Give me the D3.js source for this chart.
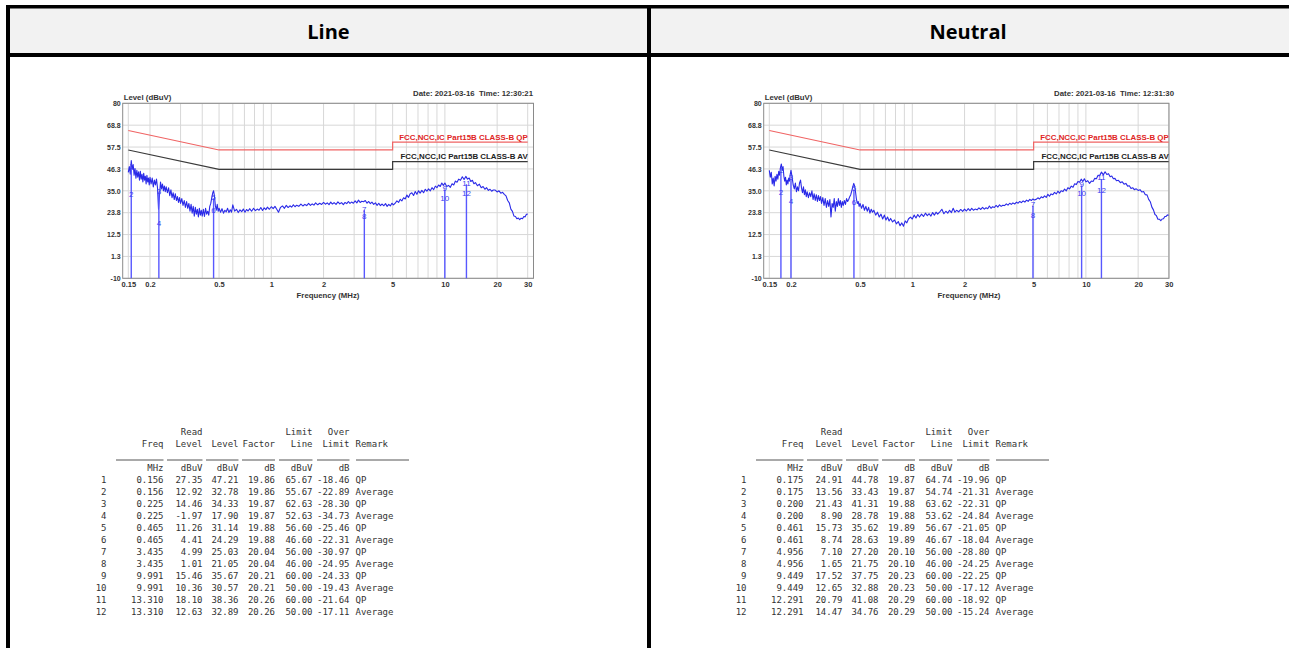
<!DOCTYPE html>
<html><head><meta charset="utf-8">
<script src="https://cdn.jsdelivr.net/npm/d3@7"></script>
<style>body{margin:0;background:#fff}svg{display:block}</style>
</head><body>
<svg id="c" width="1289" height="648"></svg>
<script>
const panelTitles = ["Line", "Neutral"];
const dateTexts = ["Date: 2021-03-16  Time: 12:30:21", "Date: 2021-03-16  Time: 12:31:30"];
const yTicks = [-10, 1.25, 12.5, 23.75, 35, 46.25, 57.5, 68.75, 80];
const yTickLabels = ["-10", "1.3", "12.5", "23.8", "35.0", "46.3", "57.5", "68.8", "80"];
const xTickValues = [0.15, 0.2, 0.5, 1, 2, 5, 10, 20, 30];
const xGrid = [0.15, 0.2, 0.3, 0.4, 0.5, 0.6, 0.7, 0.8, 0.9, 1, 2, 3, 4, 5, 6, 7, 8, 9, 10, 20, 30];
const qpLimit = [[0.15, 66], [0.5, 56], [5, 56], [5, 60], [30, 60]];
const avLimit = [[0.15, 56], [0.5, 46], [5, 46], [5, 50], [30, 50]];
const limitNames = ["FCC,NCC,IC Part15B CLASS-B QP", "FCC,NCC,IC Part15B CLASS-B AV"];

// sweep frequencies (MHz), shared by both scans
const sweepFreq = [
0.150,0.152,0.154,0.156,0.158,0.160,0.162,0.164,0.166,0.168,0.170,0.172,0.174,0.176,0.178,0.180,0.182,0.184,0.186,0.188,0.190,0.192,0.194,0.196,0.198,0.200,
0.203,0.206,0.209,0.212,0.215,0.218,0.221,0.224,0.227,0.230,0.233,0.236,0.239,0.242,0.245,0.248,
0.252,0.256,0.260,0.264,0.268,0.272,0.276,0.280,0.284,0.288,0.292,0.296,
0.300,0.305,0.310,0.315,0.320,0.325,0.330,0.335,0.340,0.345,0.350,0.355,0.360,0.365,0.370,0.375,0.380,0.385,0.390,0.395,0.400,
0.406,0.412,0.418,0.424,0.430,0.436,0.442,0.448,0.454,0.460,
0.465,0.470,0.476,0.482,0.488,0.494,0.500,
0.51,0.52,0.53,0.54,0.55,0.56,0.57,0.58,0.59,0.60,
0.615,0.63,0.645,0.66,0.675,0.69,0.705,0.72,0.735,0.75,
0.77,0.79,0.81,0.83,0.85,0.87,0.89,0.91,0.93,0.95,
0.975,1.00,1.025,1.05,1.075,1.10,
1.13,1.16,1.19,1.22,1.25,1.28,1.31,1.34,1.37,1.40,
1.44,1.48,1.52,1.56,1.60,1.64,1.68,1.72,1.76,1.80,
1.85,1.90,1.95,2.00,2.05,2.10,2.15,2.20,2.25,2.30,
2.36,2.42,2.48,2.54,2.60,2.66,2.72,2.78,2.84,2.90,
2.97,3.04,3.11,3.18,3.25,3.32,
3.40,3.48,3.56,3.64,3.72,3.80,
3.89,3.98,4.07,4.16,4.25,
4.35,4.45,4.55,4.65,4.75,4.85,4.95,5.05,
5.17,5.29,5.41,5.53,5.65,
5.78,5.91,6.04,6.17,6.30,
6.45,6.60,6.75,6.90,7.05,7.20,
7.37,7.54,7.71,7.88,8.05,
8.24,8.43,8.62,8.81,9.00,
9.20,9.40,9.60,9.80,10.0,
10.25,10.5,10.75,11.0,11.25,11.5,11.75,12.0,
12.3,12.6,12.9,13.2,13.5,13.8,14.1,14.4,14.7,15.0,
15.4,15.8,16.2,16.6,17.0,17.4,17.8,18.2,18.6,19.0,
19.5,20.0,20.5,21.0,21.5,22.0,22.5,23.0,23.5,24.0,24.5,25.0,25.5,26.0,26.5,27.0,27.5,28.0,28.5,29.0,29.5,30.0
];

const lineScan = [
44.5,47.5,43.5,50.5,46.0,48.5,43.0,46.5,41.5,45.5,42.0,44.8,40.5,45.0,41.0,43.5,39.5,44.0,40.5,42.5,38.5,43.0,39.5,41.5,38.0,42.0,
38.5,41.5,37.0,40.5,38.0,41.0,36.5,25.5,33.0,39.5,36.0,38.5,35.0,37.5,34.5,37.0,
34.0,36.5,32.5,35.5,31.5,34.0,30.5,33.5,30.0,32.0,29.0,31.5,
28.5,31.0,27.5,30.0,26.5,29.5,26.0,28.5,24.5,28.0,23.5,27.0,22.0,26.5,23.0,25.5,21.5,26.0,22.5,25.0,22.0,
25.5,21.8,26.0,23.0,24.5,22.5,27.0,28.5,31.5,34.0,
35.0,32.5,27.5,25.0,28.0,24.5,26.0,
24.0,25.8,23.5,25.0,24.2,26.0,23.8,25.2,24.0,27.8,
24.5,25.5,23.8,25.2,24.3,25.6,24.0,25.4,24.6,25.8,
24.5,26.0,24.8,25.6,25.0,26.4,24.9,26.2,25.3,26.6,
25.5,26.8,25.8,27.0,25.5,24.0,
26.5,27.2,26.0,27.5,26.4,27.3,26.6,27.8,26.8,27.6,
27.0,28.2,27.2,28.0,27.4,28.5,27.5,28.3,27.6,28.8,
27.8,28.6,28.0,29.0,28.1,28.8,27.9,29.2,28.2,28.9,
28.0,29.3,28.3,28.9,27.9,29.0,28.4,29.5,28.5,29.2,
28.6,29.8,28.8,30.2,29.0,29.6,
29.4,30.0,28.6,29.5,28.4,29.2,
28.0,28.8,27.5,28.6,27.4,
28.2,27.3,28.4,27.0,28.0,27.2,28.6,27.8,
28.6,29.8,29.0,30.6,29.8,
31.4,30.8,32.8,31.6,33.4,
34.0,32.6,34.6,33.2,35.0,33.8,
35.2,34.0,35.8,34.8,36.0,
35.0,36.6,35.6,37.4,36.6,
38.0,37.2,39.0,37.8,39.0,
37.2,37.8,36.8,38.6,38.0,40.0,39.4,41.0,
40.4,42.2,40.8,42.4,41.0,41.6,39.8,40.4,38.6,39.2,
37.6,38.4,36.6,37.2,35.8,36.6,35.2,35.8,34.8,35.4,
35.4,34.4,35.0,33.8,34.2,33.2,32.4,30.0,28.8,25.6,24.4,22.0,21.8,20.6,21.0,20.2,20.9,20.6,21.8,21.6,22.9,23.0
];

const neutralScan = [
45.5,42.0,44.5,38.5,41.5,37.5,42.5,40.0,43.5,41.0,45.0,43.0,47.0,48.8,45.5,47.5,42.5,40.0,42.0,38.0,40.5,38.5,41.5,40.0,43.5,45.5,
42.0,38.0,36.0,39.0,34.5,37.0,35.0,39.0,40.5,36.5,34.0,37.0,33.0,35.5,32.0,34.5,
31.5,34.0,32.0,35.0,30.5,33.5,30.0,33.0,29.5,32.5,30.0,32.0,
28.5,31.5,27.5,31.0,26.5,30.0,27.0,30.5,21.5,28.5,26.5,31.0,24.5,29.5,27.0,31.0,27.5,30.0,26.5,29.5,27.5,
30.0,28.0,31.0,29.5,30.5,32.0,33.0,35.0,37.0,38.8,
37.5,35.0,31.0,28.5,29.5,27.0,28.5,
26.0,28.0,25.0,27.0,24.5,26.5,23.5,25.5,24.0,25.0,
22.5,24.0,21.5,23.0,20.5,22.5,20.0,21.5,19.5,20.8,
19.0,20.0,18.0,19.2,17.0,18.5,16.8,19.5,18.5,20.5,
21.5,20.5,22.5,21.0,22.8,21.5,
23.0,21.8,23.5,22.2,23.2,22.0,23.8,22.5,24.0,23.0,
24.2,25.5,23.2,24.5,23.5,25.0,23.8,26.0,24.0,25.0,
24.2,25.4,24.4,25.6,24.6,25.8,24.8,26.0,25.0,25.6,
25.2,26.2,25.4,26.5,25.6,26.3,25.8,27.2,26.0,26.8,
26.4,27.5,26.6,27.8,27.0,27.6,
27.4,28.3,27.6,28.6,28.0,28.8,
28.2,29.2,28.6,29.5,28.9,
29.8,29.2,30.2,29.6,30.6,30.0,30.8,30.3,
30.6,31.4,30.8,31.9,31.4,
32.4,31.6,33.2,32.2,33.4,
33.0,34.2,33.4,34.8,33.8,35.0,
34.6,35.9,35.0,36.6,36.0,
37.4,36.8,38.6,38.2,39.8,
39.4,41.0,39.8,41.2,39.6,
40.2,38.8,40.0,39.8,41.4,41.2,43.0,42.8,
44.6,43.2,44.8,43.4,43.8,42.2,42.6,41.2,41.4,40.2,
40.4,39.2,39.6,38.4,38.8,37.4,37.6,36.2,36.6,35.6,
36.0,35.2,35.6,34.4,34.6,33.0,32.9,30.6,29.4,26.6,25.2,22.8,22.2,20.4,20.4,19.6,20.5,20.6,21.8,21.8,22.6,22.4
];

const remarks = ["QP","Average","QP","Average","QP","Average","QP","Average","QP","Average","QP","Average"];

const lineFreq   = [0.156,0.156,0.225,0.225,0.465,0.465,3.435,3.435,9.991,9.991,13.310,13.310];
const lineRead   = [27.35,12.92,14.46,-1.97,11.26,4.41,4.99,1.01,15.46,10.36,18.10,12.63];
const lineLevel  = [47.21,32.78,34.33,17.90,31.14,24.29,25.03,21.05,35.67,30.57,38.36,32.89];
const lineFactor = [19.86,19.86,19.87,19.87,19.88,19.88,20.04,20.04,20.21,20.21,20.26,20.26];
const lineLimit  = [65.67,55.67,62.63,52.63,56.60,46.60,56.00,46.00,60.00,50.00,60.00,50.00];
const lineOver   = [-18.46,-22.89,-28.30,-34.73,-25.46,-22.31,-30.97,-24.95,-24.33,-19.43,-21.64,-17.11];

const neutralFreq   = [0.175,0.175,0.200,0.200,0.461,0.461,4.956,4.956,9.449,9.449,12.291,12.291];
const neutralRead   = [24.91,13.56,21.43,8.90,15.73,8.74,7.10,1.65,17.52,12.65,20.79,14.47];
const neutralLevel  = [44.78,33.43,41.31,28.78,35.62,28.63,27.20,21.75,37.75,32.88,41.08,34.76];
const neutralFactor = [19.87,19.87,19.88,19.88,19.89,19.89,20.10,20.10,20.23,20.23,20.29,20.29];
const neutralLimit  = [64.74,54.74,63.62,53.62,56.67,46.67,56.00,46.00,60.00,50.00,60.00,50.00];
const neutralOver   = [-19.96,-21.31,-22.31,-24.84,-21.05,-18.04,-28.80,-24.25,-22.25,-17.12,-18.92,-15.24];

const tableHead1 = ["", "", "Read", "", "", "Limit", "Over"];
const tableHead2 = ["", "Freq", "Level", "Level", "Factor", "Line", "Limit"];
const tableUnits = ["", "MHz", "dBuV", "dBuV", "dB", "dBuV", "dB"];

const panels = [
  {trace: d3.zip(sweepFreq, lineScan), freq: lineFreq, read: lineRead, level: lineLevel, factor: lineFactor, limit: lineLimit, over: lineOver},
  {trace: d3.zip(sweepFreq, neutralScan), freq: neutralFreq, read: neutralRead, level: neutralLevel, factor: neutralFactor, limit: neutralLimit, over: neutralOver}
];

const svg = d3.select("#c");
const SANS = "'Liberation Sans', Arial, sans-serif";
const MONO = "'DejaVu Sans Mono', monospace";
const loc = d3.formatLocale({decimal: ".", thousands: ",", grouping: [3], currency: ["", ""], minus: "-"});
const fmt2 = loc.format(".2f"), fmt3 = loc.format(".3f");

// ---- outer table ----
svg.append("rect").attr("x", 0).attr("y", 0).attr("width", 1289).attr("height", 648).attr("fill", "#fff");
svg.append("rect").attr("x", 10).attr("y", 8).attr("width", 1279).attr("height", 45).attr("fill", "#f2f2f2");
const borders = [[6,5,1283,3.5],[6,5,4,643],[6,53,1283,4],[647,5,4,643]];
svg.selectAll("rect.b").data(borders).enter().append("rect").attr("class","b")
  .attr("x", d => d[0]).attr("y", d => d[1]).attr("width", d => d[2]).attr("height", d => d[3]).attr("fill", "#000");
const titleX = [328.5, 968];
svg.selectAll("text.title").data(panelTitles).enter().append("text").attr("class","title")
  .attr("x", (d,i) => titleX[i]).attr("y", 31).attr("dominant-baseline","central")
  .attr("text-anchor","middle").attr("font-family","'Open Sans', sans-serif").attr("font-weight","bold")
  .attr("font-size", 20).attr("fill","#000").text(d => d);

const frameRight = [533.5, 1169];

panels.forEach((p, i) => {
  const dx = i * 641;
  const fL = 122.7 + dx, fR = frameRight[i], fT = 103.3, fB = 278.3;
  const x = d3.scaleLog().domain([0.15, 30]).range([128.3 + dx, 527.7 + dx]);
  const y = d3.scaleLinear().domain([-10, 80]).range([fB, fT]);
  const g = svg.append("g");

  // grid
  g.selectAll("line.hg").data(yTicks).enter().append("line")
    .attr("x1", fL).attr("x2", fR).attr("y1", d => y(d)).attr("y2", d => y(d))
    .attr("stroke", "#d8d8d8").attr("stroke-width", 1);
  g.selectAll("line.vg").data(xGrid).enter().append("line")
    .attr("x1", d => x(d)).attr("x2", d => x(d)).attr("y1", fT).attr("y2", fB)
    .attr("stroke", "#d8d8d8").attr("stroke-width", 1);
  g.append("rect").attr("x", fL).attr("y", fT).attr("width", fR - fL).attr("height", fB - fT)
    .attr("fill", "none").attr("stroke", "#8a8a8a").attr("stroke-width", 1);

  // axes
  const ya = g.append("g").attr("transform", `translate(${fL},0)`)
    .call(d3.axisLeft(y).tickValues(yTicks).tickFormat((d, k) => yTickLabels[k]).tickSize(0).tickPadding(2));
  ya.select(".domain").remove();
  ya.selectAll("text").attr("font-family", SANS).attr("font-weight", "bold").attr("font-size", 7).attr("fill", "#333");

  const xa = g.append("g").attr("transform", `translate(0,${fB})`)
    .call(d3.axisBottom(x).tickValues(xTickValues).tickFormat(d => String(d)).tickSize(0).tickPadding(3));
  xa.select(".domain").remove();
  xa.selectAll("text").attr("font-family", SANS).attr("font-weight", "bold").attr("font-size", 7.5).attr("fill", "#333");

  // titles
  g.append("text").attr("x", fL + 1).attr("y", 100).attr("font-family", SANS).attr("font-weight", "bold")
    .attr("font-size", 7.8).attr("fill", "#333").text("Level (dBuV)");
  g.append("text").attr("x", 533 + dx).attr("y", 96).attr("text-anchor", "end").attr("font-family", SANS)
    .attr("font-weight", "bold").attr("font-size", 7.8).attr("fill", "#333")
    .style("white-space","pre").text(dateTexts[i]);
  g.append("text").attr("x", 328 + dx).attr("y", 298).attr("text-anchor", "middle").attr("font-family", SANS)
    .attr("font-weight", "bold").attr("font-size", 7.8).attr("fill", "#333").text("Frequency (MHz)");

  // limit lines
  const ln = d3.line().x(d => x(d[0])).y(d => y(d[1]));
  g.append("path").attr("d", ln(qpLimit)).attr("fill", "none").attr("stroke", "#f06464").attr("stroke-width", 1.2);
  g.append("path").attr("d", ln(avLimit)).attr("fill", "none").attr("stroke", "#3a3a3a").attr("stroke-width", 1.2);
  g.append("text").attr("x", x(30)).attr("y", y(60) - 2.5).attr("text-anchor", "end").attr("font-family", SANS)
    .attr("font-weight", "bold").attr("font-size", 7.9).attr("fill", "#e02424").text(limitNames[0]);
  g.append("text").attr("x", x(30)).attr("y", y(50) - 2.5).attr("text-anchor", "end").attr("font-family", SANS)
    .attr("font-weight", "bold").attr("font-size", 7.9).attr("fill", "#222").text(limitNames[1]);

  // trace
  g.append("path").attr("d", ln(p.trace)).attr("fill", "none").attr("stroke", "#2a2ae8")
    .attr("stroke-width", 1.1).attr("stroke-linejoin", "round");

  // markers
  const pairs = d3.range(6).map(k => ({f: p.freq[2 * k], top: Math.max(p.level[2 * k], p.level[2 * k + 1])}));
  g.selectAll("line.mk").data(pairs).enter().append("line")
    .attr("x1", d => x(d.f)).attr("x2", d => x(d.f)).attr("y1", fB).attr("y2", d => y(d.top))
    .attr("stroke", "#5858ff").attr("stroke-width", 1.4);
  g.selectAll("text.mk").data(p.level).enter().append("text")
    .attr("x", (d, k) => x(p.freq[k])).attr("y", d => y(d) + 1.5).attr("text-anchor", "middle")
    .attr("font-family", SANS).attr("font-size", 8).attr("fill", "#4040f0").text((d, k) => k + 1);

  // data table
  const tx = 640 * i;
  const colR = [106.5, 163.5, 202.5, 238.5, 275, 312.5, 349.5].map(v => v + tx);
  const remarkX = 355.5 + tx;
  const tg = svg.append("g").attr("font-family", MONO).attr("font-size", 9).attr("fill", "#333");
  const hdr = (arr, yy) => arr.forEach((t, c) => { if (t) tg.append("text").attr("x", colR[c]).attr("y", yy).attr("text-anchor", "end").text(t); });
  hdr(tableHead1, 435);
  hdr(tableHead2, 446.5);
  tg.append("text").attr("x", remarkX).attr("y", 446.5).text("Remark");
  hdr(tableUnits, 470.5);
  const segs = [[116,163.5],[167,202.5],[206,238.5],[242,275],[279,312.5],[317,349.5],[356,409]];
  tg.selectAll("line.sep").data(segs).enter().append("line")
    .attr("x1", d => d[0] + tx).attr("x2", d => d[1] + tx).attr("y1", 460).attr("y2", 460)
    .attr("stroke", "#555").attr("stroke-width", 1);
  p.freq.forEach((f, r) => {
    const yy = 482.5 + 12 * r;
    const vals = [String(r + 1), fmt3(f), fmt2(p.read[r]), fmt2(p.level[r]), fmt2(p.factor[r]), fmt2(p.limit[r]), fmt2(p.over[r])];
    vals.forEach((t, c) => tg.append("text").attr("x", colR[c]).attr("y", yy).attr("text-anchor", "end").text(t));
    tg.append("text").attr("x", remarkX).attr("y", yy).text(remarks[r]);
  });
});
</script>
</body></html>
